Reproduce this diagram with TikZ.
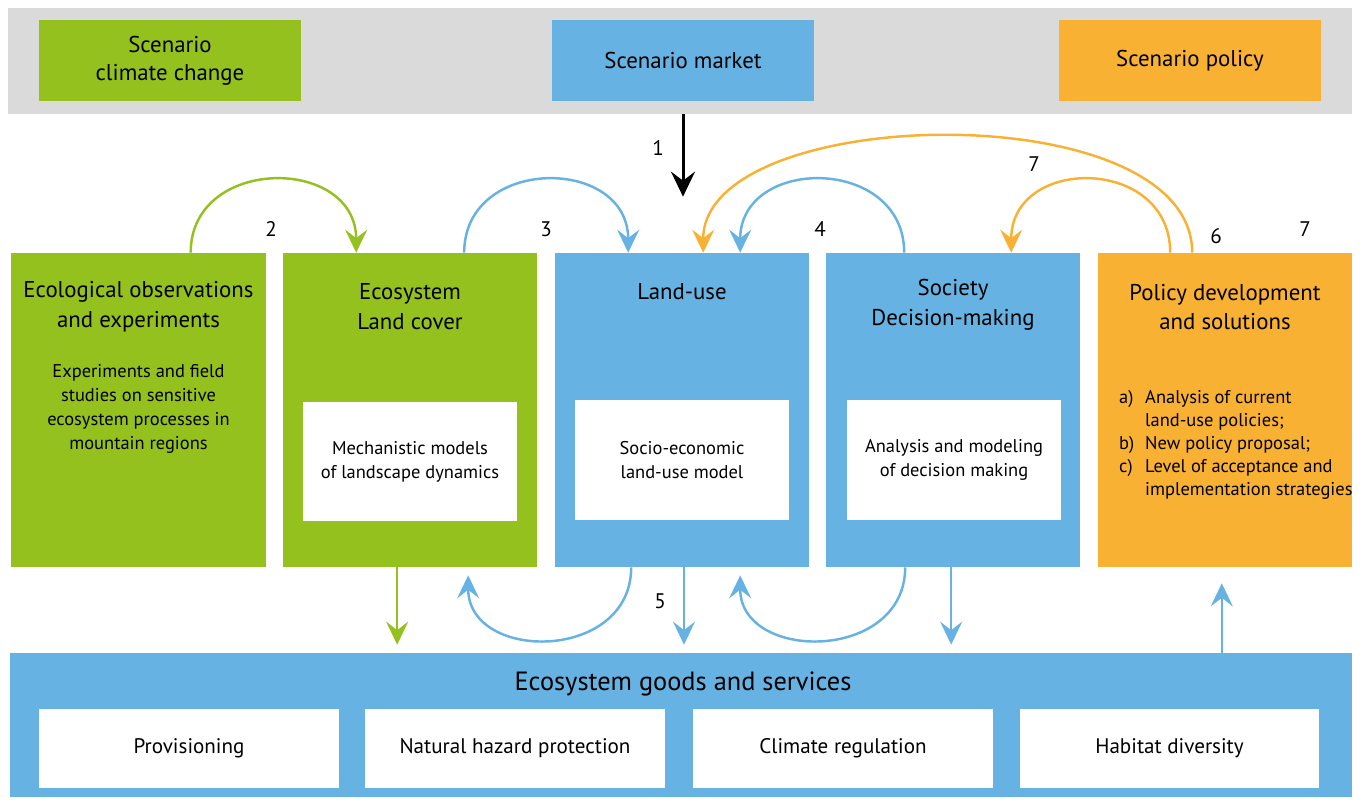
\documentclass[tikz,border=0pt]{standalone}
\usepackage{fontspec}
\setmainfont{PT Sans}
\usepackage{xcolor}
\usepackage{tikz}
\usetikzlibrary{arrows.meta}
\usetikzlibrary{calc}

\definecolor{ecogreen}{HTML}{95C11F}
\definecolor{skyblue}{HTML}{66B2E2}
\definecolor{polorange}{HTML}{F8B133}
\definecolor{bandgray}{HTML}{DADADA}

\tikzset{
  box/.style={inner sep=0pt, minimum width=5.1cm, minimum height=6.28cm},
  scen/.style={inner sep=0pt, minimum width=5.24cm, minimum height=1.62cm, align=center, font=\fontsize{13}{16}\selectfont},
  inbox/.style={fill=white, inner sep=0pt, minimum width=4.28cm, minimum height=2.4cm, align=center, font=\fontsize{10.5}{13.5}\selectfont},
  svc/.style={fill=white, inner sep=0pt, minimum width=6cm, minimum height=1.58cm, font=\fontsize{12}{14}\selectfont},
  head/.style={align=center, font=\fontsize{13}{17}\selectfont},
  small/.style={align=center, font=\fontsize{10.5}{13.6}\selectfont},
  num/.style={font=\fontsize{12}{14}\selectfont},
  arr/.style={line width=1.4pt, -{Stealth[length=0.46cm,width=0.44cm,inset=0.17cm]}},
}

\begin{document}
\begin{tikzpicture}[x=0.02cm,y=-0.02cm]
\useasboundingbox (0,0) rectangle (1361,807);

% scenarios
\node [fill=bandgray, inner sep=0pt, minimum width=26.88cm, minimum height=2.12cm] (band) at (680,61) {};
\node [scen, fill=ecogreen] (scc) at (170,60.5) {Scenario\\climate change};
\node [scen, fill=skyblue] (smk) at (683,60.5) {Scenario market};
\node [scen, fill=polorange] (spol) at (1190,60.5) {Scenario policy};

% main row
\node [box, fill=ecogreen] (obs) at (138.5,410) {};
\node [box, fill=ecogreen] (ecs) at (410,410) {};
\node [box, fill=skyblue] (lu) at (682,410) {};
\node [box, fill=skyblue] (soc) at (953,410) {};
\node [box, fill=polorange] (pol) at (1225,410) {};

\node [head] (obshead) at (138.5,307) {Ecological observations\\and experiments};
\node [small] (obstext) at (138.5,409) {Experiments and field\\studies on sensitive\\ecosystem processes in\\mountain regions};
\node [head] (ecshead) at (410,307) {Ecosystem\\Land cover};
\node [head] (luhead) at (682,292) {Land-use};
\node [head] (sochead) at (953,305) {Society\\Decision-making};
\node [head] (polhead) at (1225,307) {Policy development\\and solutions};

\node [inbox] (mech) at (410,461.5) {Mechanistic models\\of landscape dynamics};
\node [inbox] (socio) at (682,460) {Socio-economic\\land-use model};
\node [inbox] (anal) at (954,460) {Analysis and modeling\\of decision making};

\node [anchor=west, font=\fontsize{10.5}{13}\selectfont] (pollist) at (1113,445)
  {\begin{tabular}{@{}l@{\hspace{0.22cm}}l@{}}
   a) & Analysis of current\\
      & land-use policies;\\
   b) & New policy proposal;\\
   c) & Level of acceptance and\\
      & implementation strategies
   \end{tabular}};

% goods and services
\node [fill=skyblue, inner sep=0pt, minimum width=26.84cm, minimum height=2.88cm] (ges) at (681,725) {};
\node [font=\fontsize{15}{18}\selectfont] (geshead) at (683,684) {Ecosystem goods and services};
\node [svc] (prov) at (189,748.5) {Provisioning};
\node [svc] (haz) at (515,748.5) {Natural hazard protection};
\node [svc] (clim) at (843,748.5) {Climate regulation};
\node [svc] (hab) at (1169.5,748.5) {Habitat diversity};

% arrow ends
\coordinate (lutop) at ($(lu.north)+(0,-56)$);
\coordinate (ecsout) at ($(ecs.south west)+(115,0)$);
\coordinate (luout) at ($(lu.south)+(2,0)$);
\coordinate (socout) at ($(soc.south west)+(126,0)$);
\coordinate (gesout) at ($(ges.north west)+(1212,0)$);

% arrows on top
\draw [line width=1.7pt, -{Stealth[length=0.5cm,width=0.48cm,inset=0.18cm]}] (smk.south |- band.south) -- (smk.south |- lutop);
\draw [arr, ecogreen] ($(obs.north west)+(180,0)$) .. controls +(0,-97) and +(0,-97) .. ($(ecs.north west)+(74,0)$);
\draw [arr, skyblue] ($(ecs.north west)+(182,0)$) .. controls +(0,-97) and +(0,-97) .. ($(lu.north west)+(74,0)$);
\draw [arr, skyblue] ($(soc.north west)+(79,0)$) .. controls +(0,-97) and +(0,-97) .. ($(lu.north west)+(186,0)$);
\draw [arr, polorange] ($(pol.north west)+(73,0)$) .. controls +(0,-97) and +(0,-97) .. ($(soc.north west)+(186,0)$);
\draw [arr, polorange] ($(pol.north west)+(95,0)$) .. controls +(0,-160) and +(0,-150) .. ($(lu.north west)+(149,0)$);

% arrows below
\draw [arr, ecogreen, shorten >=0.16cm] (ecsout) -- (ecsout |- ges.north);
\draw [arr, skyblue, shorten >=0.16cm] ($(lu.south west)+(77,0)$) .. controls +(0,95) and +(0,95) .. ($(ecs.south west)+(186,0)$);
\draw [arr, skyblue, shorten >=0.16cm] (luout) -- (luout |- ges.north);
\draw [arr, skyblue, shorten >=0.16cm] ($(soc.south west)+(80,0)$) .. controls +(0,95) and +(0,95) .. ($(lu.south west)+(186,0)$);
\draw [arr, skyblue, shorten >=0.16cm] (socout) -- (socout |- ges.north);
\draw [arr, skyblue, shorten >=0.32cm] (gesout) -- (gesout |- pol.south);

% numbers
\node [num] (n1) at (658,148) {1};
\node [num] (n2) at (271,229) {2};
\node [num] (n3) at (546,229) {3};
\node [num] (n4) at (820,229) {4};
\node [num] (n5) at (660,601) {5};
\node [num] (n6) at (1216,236) {6};
\node [num] (n7a) at (1034,164) {7};
\node [num] (n7b) at (1305,229) {7};
\end{tikzpicture}
\end{document}
